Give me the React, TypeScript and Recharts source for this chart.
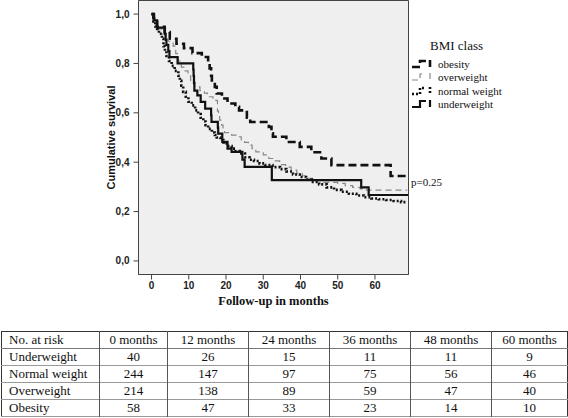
import { LineChart, Line, XAxis, YAxis, CartesianGrid, ReferenceArea } from "recharts";

// x ticks (months) and y ticks (survival)
const monthTicks = [0, 10, 20, 30, 40, 50, 60];
const survivalTicks = [0, 0.2, 0.4, 0.6, 0.8, 1.0];

// Kaplan-Meier steps: [month, survival]
const obesityCurve: [number, number][] = [
    [0, 1], [0.5, 0.983], [1.5, 0.948], [3.5, 0.927], [4.9, 0.9], [6.7, 0.88], [8.7, 0.862],
    [11, 0.842], [13.5, 0.826], [15.2, 0.8], [15.6, 0.78], [16, 0.75], [16.2, 0.725], [17, 0.705],
    [17.5, 0.678], [18.9, 0.658], [20.4, 0.638], [22.5, 0.624], [23.5, 0.61], [25.6, 0.58],
    [26.5, 0.563], [31.5, 0.543], [32.2, 0.517], [32.6, 0.503], [36.2, 0.482], [39.8, 0.462],
    [42.9, 0.44], [45.6, 0.415], [48.3, 0.388], [64.2, 0.344], [68.5, 0.344],
];
const overweightCurve: [number, number][] = [
    [0, 1], [0.5, 0.98], [1, 0.96], [1.8, 0.94], [2.8, 0.92], [3.6, 0.9], [4.5, 0.89], [5.8, 0.87],
    [6.5, 0.84], [7.2, 0.81], [8, 0.785], [9, 0.77], [9.8, 0.75], [10.5, 0.73], [11.6, 0.705],
    [13, 0.69], [14.2, 0.68], [15, 0.665], [16.5, 0.65], [17.7, 0.607], [18, 0.585], [18.3, 0.57],
    [18.8, 0.55], [19.2, 0.53], [19.6, 0.52], [21.5, 0.51], [23, 0.503], [24.1, 0.49], [25, 0.48],
    [26, 0.469], [27, 0.455], [28, 0.442], [30, 0.43], [31.5, 0.415], [33, 0.405], [34.4, 0.39],
    [36, 0.38], [37.5, 0.368], [39, 0.355], [40.5, 0.345], [42, 0.335], [43.5, 0.325], [46, 0.318],
    [50, 0.314], [52, 0.305], [54, 0.298], [56, 0.292], [57.7, 0.287], [68.5, 0.285],
];
const normalCurve: [number, number][] = [
    [0, 1], [0.5, 0.97], [1, 0.95], [1.5, 0.94], [2, 0.92], [2.8, 0.9], [3.2, 0.87], [3.6, 0.85],
    [4, 0.83], [4.7, 0.81], [5.4, 0.79], [6.2, 0.77], [7.2, 0.75], [7.6, 0.73], [8, 0.71],
    [8.5, 0.685], [9.2, 0.665], [9.9, 0.645], [10.8, 0.63], [11.7, 0.61], [12.5, 0.595], [13.2, 0.58],
    [13.9, 0.565], [14.5, 0.55], [15.2, 0.535], [16.2, 0.52], [17, 0.51], [17.5, 0.5], [18.5, 0.49],
    [19.3, 0.48], [20.2, 0.465], [21.5, 0.455], [22.5, 0.445], [23.7, 0.435], [25.1, 0.42],
    [26.3, 0.41], [27.5, 0.405], [29, 0.395], [30.5, 0.388], [32.5, 0.38], [34.5, 0.372],
    [36.2, 0.362], [38, 0.35], [39.8, 0.34], [41.5, 0.33], [43, 0.32], [45, 0.31], [47, 0.298],
    [49, 0.288], [51, 0.28], [53, 0.272], [55, 0.265], [57, 0.258], [59, 0.253], [61, 0.25],
    [63, 0.247], [65, 0.243], [67, 0.238], [68.5, 0.235],
];
const underweightCurve: [number, number][] = [
    [0, 1], [0.7, 0.975], [1.5, 0.945], [3.6, 0.92], [3.8, 0.895], [4, 0.875], [4.5, 0.85],
    [4.8, 0.826], [7, 0.8], [11.2, 0.775], [11.3, 0.75], [11.4, 0.72], [11.5, 0.69], [12.3, 0.671],
    [13.2, 0.644], [14.4, 0.617], [16, 0.59], [16.1, 0.563], [17.8, 0.54], [17.9, 0.516],
    [19, 0.482], [20.4, 0.455], [21.5, 0.442], [24.4, 0.41], [25, 0.381], [32.3, 0.327],
    [56.3, 0.298], [58.3, 0.267], [68.9, 0.267],
];

// number at risk table
const riskHeaders = ["0 months", "12 months", "24 months", "36 months", "48 months", "60 months"];
const riskGroups = ["Underweight", "Normal weight", "Overweight", "Obesity"];
const underweightRisk = [40, 26, 15, 11, 11, 9];
const normalRisk = [244, 147, 97, 75, 56, 46];
const overweightRisk = [214, 138, 89, 59, 47, 40];
const obesityRisk = [58, 47, 33, 23, 14, 10];

const SERIF = "'Liberation Serif', 'Times New Roman', serif";
const SANS = "'Liberation Sans', Arial, sans-serif";

const series = [
    { name: "obesity", curve: obesityCurve, stroke: "#111", width: 2.6, dash: "8 4" },
    { name: "overweight", curve: overweightCurve, stroke: "#888", width: 1.2, dash: "6 4" },
    { name: "normal weight", curve: normalCurve, stroke: "#111", width: 2.6, dash: "2 2" },
    { name: "underweight", curve: underweightCurve, stroke: "#111", width: 2.2, dash: undefined },
];

const toPoints = (c: [number, number][]) => c.map(([t, s]) => ({ t, s }));

function LegendBox() {
    return (
        <div style={{ position: "absolute", left: 411, top: 38, fontFamily: SERIF, color: "#111" }}>
            <div style={{ fontSize: 13, marginLeft: 19, height: 19 }}>BMI class</div>
            {series.map((s) => (
                <div key={s.name} style={{ display: "flex", alignItems: "center", height: 13.5, fontSize: 11 }}>
                    <svg width={24} height={10} style={{ marginRight: 3 }}>
                        <path
                            d="M1,8 H9 V2 H15 M19,1 V8"
                            fill="none"
                            stroke={s.stroke}
                            strokeWidth={s.width}
                            strokeDasharray={s.dash}
                        />
                    </svg>
                    <span>{s.name}</span>
                </div>
            ))}
        </div>
    );
}

const YTitle = (props: any) => {
    const { x, y, width, height } = props.viewBox;
    const cx = x + width - 28;
    const cy = y + height / 2;
    return (
        <text x={cx} y={cy} transform={`rotate(-90, ${cx}, ${cy})`} textAnchor="middle"
            dominantBaseline="central" fontFamily={SANS} fontWeight={700} fontSize={11} fill="#111">
            Cumulative survival
        </text>
    );
};

const XTitle = (props: any) => {
    const { x, y, width } = props.viewBox;
    return (
        <text x={x + width / 2} y={y + 30} textAnchor="middle" fontFamily={SERIF}
            fontWeight={700} fontSize={12.5} fill="#111">
            Follow-up in months
        </text>
    );
};

export default function App() {
    const riskRows = [underweightRisk, normalRisk, overweightRisk, obesityRisk];
    const colWidths = [98, 68, 81, 81, 81, 81, 76];
    const cell = (i: number): React.CSSProperties => ({
        borderLeft: i === 0 ? "none" : "1px solid #555",
        padding: i === 0 ? "0 0 0 7px" : 0,
        textAlign: i === 0 ? "left" : "center",
        whiteSpace: "nowrap",
        height: 16,
        lineHeight: "16px",
    });

    return (
        <div style={{ position: "absolute", left: 0, top: 0, width: 568, height: 418, background: "#fff" }}>
            <LineChart width={568} height={330} margin={{ top: 0.5, right: 159.5, bottom: 15.5, left: 0.5 }}>
                <CartesianGrid horizontal={false} vertical={false} fill="#efefef" />
                <XAxis
                    type="number"
                    dataKey="t"
                    domain={[-3.5, 69]}
                    ticks={monthTicks}
                    allowDataOverflow
                    height={40}
                    stroke="#444"
                    tickSize={5}
                    tick={{ fontFamily: SANS, fontWeight: 700, fontSize: 10, fill: "#222" }}
                    label={<XTitle />}
                />
                <YAxis
                    type="number"
                    domain={[-0.055, 1.055]}
                    ticks={survivalTicks}
                    allowDataOverflow
                    width={138}
                    stroke="#444"
                    tickSize={5}
                    tickMargin={4}
                    tickFormatter={(v: number) => v.toFixed(1).replace(".", ",")}
                    tick={{ fontFamily: SANS, fontWeight: 700, fontSize: 10, fill: "#222" }}
                    label={<YTitle />}
                />
                <ReferenceArea x1={-3.5} x2={69} y1={-0.055} y2={1.055} fill="none" stroke="#444" strokeWidth={1} />
                {series.map((s) => (
                    <Line
                        key={s.name}
                        data={toPoints(s.curve)}
                        dataKey="s"
                        name={s.name}
                        type="stepAfter"
                        stroke={s.stroke}
                        strokeWidth={s.width}
                        strokeDasharray={s.dash}
                        dot={false}
                        activeDot={false}
                        isAnimationActive={false}
                    />
                ))}
            </LineChart>
            <LegendBox />
            <span style={{ position: "absolute", left: 411, top: 176, fontFamily: SERIF, fontSize: 11, color: "#111" }}>
                p=0.25
            </span>
            <table
                style={{
                    position: "absolute",
                    left: 1,
                    top: 331,
                    width: 566,
                    borderCollapse: "collapse",
                    border: "1px solid #333",
                    fontFamily: SERIF,
                    fontSize: 13,
                    color: "#111",
                    tableLayout: "fixed",
                }}
            >
                <colgroup>
                    {colWidths.map((w, i) => (
                        <col key={i} style={{ width: w }} />
                    ))}
                </colgroup>
                <tbody>
                    <tr style={{ borderBottom: "1px solid #777" }}>
                        <td style={cell(0)}>No. at risk</td>
                        {riskHeaders.map((h, i) => (
                            <td key={h} style={cell(i + 1)}>{h}</td>
                        ))}
                    </tr>
                    {riskRows.map((row, r) => (
                        <tr key={riskGroups[r]} style={{ borderBottom: "1px solid #999" }}>
                            <td style={cell(0)}>{riskGroups[r]}</td>
                            {row.map((v, i) => (
                                <td key={i} style={cell(i + 1)}>{v}</td>
                            ))}
                        </tr>
                    ))}
                </tbody>
            </table>
        </div>
    );
}
